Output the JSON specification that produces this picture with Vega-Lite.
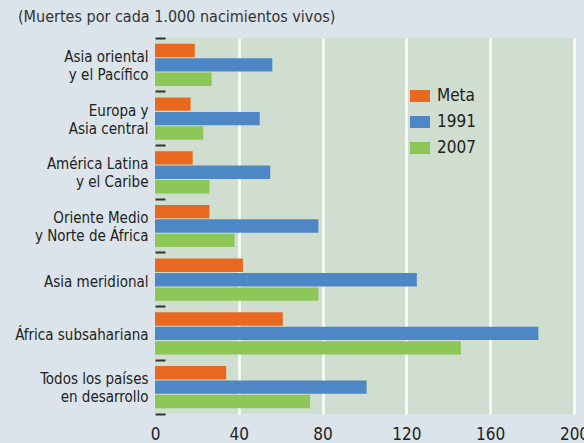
{
  "$schema": "https://vega.github.io/schema/vega-lite/v6.json",
  "width": 419,
  "height": 376,
  "autosize": {"type": "none"},
  "padding": {"left": 155, "top": 38, "right": 10, "bottom": 29},
  "background": "#dae4ea",
  "title": {
    "text": "(Muertes por cada 1.000 nacimientos vivos)",
    "anchor": "start",
    "frame": "group",
    "dx": -137,
    "offset": 6,
    "fontSize": 16,
    "fontWeight": "normal",
    "color": "#333333"
  },
  "config": {
    "view": {"fill": "#cfdecf", "stroke": null},
    "font": "Liberation Sans Narrow, DejaVu Sans Condensed, sans-serif"
  },
  "data": {
    "values": [
      {"region": "Asia oriental|y el Pacífico", "serie": "Meta", "value": 19},
      {"region": "Asia oriental|y el Pacífico", "serie": "1991", "value": 56},
      {"region": "Asia oriental|y el Pacífico", "serie": "2007", "value": 27},
      {"region": "Europa y|Asia central", "serie": "Meta", "value": 17},
      {"region": "Europa y|Asia central", "serie": "1991", "value": 50},
      {"region": "Europa y|Asia central", "serie": "2007", "value": 23},
      {"region": "América Latina|y el Caribe", "serie": "Meta", "value": 18},
      {"region": "América Latina|y el Caribe", "serie": "1991", "value": 55},
      {"region": "América Latina|y el Caribe", "serie": "2007", "value": 26},
      {"region": "Oriente Medio|y Norte de África", "serie": "Meta", "value": 26},
      {"region": "Oriente Medio|y Norte de África", "serie": "1991", "value": 78},
      {"region": "Oriente Medio|y Norte de África", "serie": "2007", "value": 38},
      {"region": "Asia meridional", "serie": "Meta", "value": 42},
      {"region": "Asia meridional", "serie": "1991", "value": 125},
      {"region": "Asia meridional", "serie": "2007", "value": 78},
      {"region": "África subsahariana", "serie": "Meta", "value": 61},
      {"region": "África subsahariana", "serie": "1991", "value": 183},
      {"region": "África subsahariana", "serie": "2007", "value": 146},
      {"region": "Todos los países|en desarrollo", "serie": "Meta", "value": 34},
      {"region": "Todos los países|en desarrollo", "serie": "1991", "value": 101},
      {"region": "Todos los países|en desarrollo", "serie": "2007", "value": 74}
    ]
  },
  "mark": {"type": "bar"},
  "encoding": {
    "y": {
      "field": "region",
      "type": "nominal",
      "sort": null,
      "scale": {"paddingInner": 0, "paddingOuter": 0},
      "axis": {
        "title": null,
        "domain": false,
        "grid": false,
        "bandPosition": 1,
        "tickExtra": true,
        "tickSize": -10,
        "tickWidth": 2,
        "tickColor": "#333333",
        "labelPadding": 17,
        "labelExpr": "split(datum.label, '|')",
        "labelOffset": {"condition": {"test": "isString(datum.value) && indexof(datum.value, '|') >= 0", "value": -8}, "value": 2},
        "labelFontSize": 15,
        "labelLineHeight": 18,
        "labelColor": "#222222"
      }
    },
    "yOffset": {
      "field": "serie",
      "type": "nominal",
      "sort": ["Meta", "1991", "2007"],
      "scale": {"paddingInner": 0.07, "paddingOuter": 0.4}
    },
    "x": {
      "field": "value",
      "type": "quantitative",
      "scale": {"domain": [0, 200], "nice": false},
      "axis": {
        "title": null,
        "values": [0, 40, 80, 120, 160, 200],
        "domain": false,
        "ticks": false,
        "labelFlush": false,
        "labelFontSize": 17,
        "labelPadding": 12,
        "labelColor": "#222222",
        "gridColor": "#ffffff",
        "gridWidth": 2.5,
        "gridOpacity": {"condition": {"test": "datum.value === 0", "value": 0}, "value": 1}
      }
    },
    "color": {
      "field": "serie",
      "type": "nominal",
      "scale": {"domain": ["Meta", "1991", "2007"], "range": ["#e8681f", "#4e87c6", "#8cc757"]},
      "legend": {
        "title": null,
        "orient": "none",
        "legendX": 255,
        "legendY": 48,
        "padding": 0,
        "symbolType": "M-1,-0.6H1V0.6H-1Z",
        "symbolSize": 400,
        "symbolStrokeWidth": 0,
        "symbolOpacity": 1,
        "labelFontSize": 17,
        "labelColor": "#222222",
        "labelOffset": 7,
        "rowPadding": 8
      }
    }
  }
}
